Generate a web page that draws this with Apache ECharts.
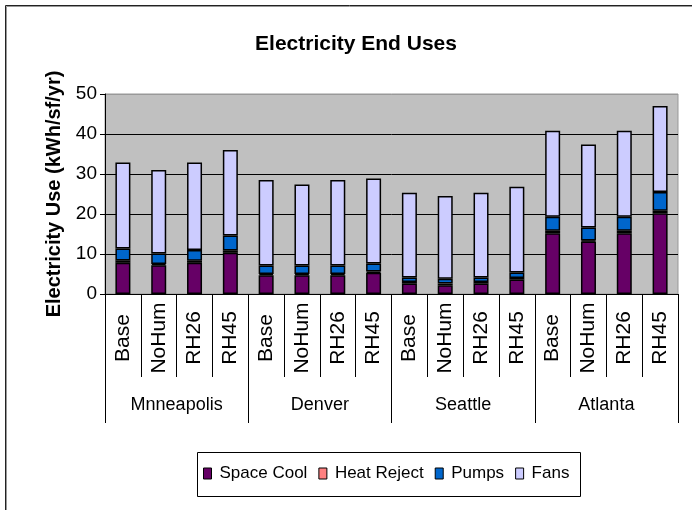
<!DOCTYPE html>
<html>
<head>
<meta charset="utf-8">
<script src="https://cdn.jsdelivr.net/npm/echarts@6/dist/echarts.min.js"></script>
<style>
  html, body { margin: 0; padding: 0; background: #fff; }
  #chart { width: 692px; height: 510px; }
</style>
</head>
<body>
<div id="chart"></div>
<script>
var cities = ['Mnneapolis', 'Denver', 'Seattle', 'Atlanta'];
var cases = ['Base', 'NoHum', 'RH26', 'RH45'];
var spaceCool  = [7.8, 7.2, 7.8, 10.3, 4.7, 4.7, 4.7, 5.3, 2.6, 2.2, 2.6, 3.6, 15.2, 13.1, 15.2, 20.2];
var heatReject = [0.6, 0.3, 0.5, 0.6, 0.3, 0.3, 0.3, 0.3, 0.4, 0.4, 0.4, 0.4, 0.6, 0.3, 0.6, 0.6];
var pumps      = [3.0, 2.6, 2.7, 3.7, 2.1, 2.1, 2.1, 2.0, 1.1, 1.2, 1.1, 1.4, 3.5, 3.2, 3.5, 4.7];
var fans       = [21.5, 20.9, 21.9, 21.4, 21.4, 20.3, 21.4, 21.3, 21.2, 20.7, 21.2, 21.4, 21.5, 20.8, 21.5, 21.5];
var yTicks = [0, 50, 10];

var categories = [];
cities.forEach(function () {
    cases.forEach(function (c) { categories.push(c); });
});

var font = "'Liberation Sans', Arial, sans-serif";
var myChart = echarts.init(document.getElementById('chart'));

function bar(name, data, color) {
    return {
        name: name,
        type: 'bar',
        stack: 'total',
        barWidth: 15,
        data: data,
        itemStyle: { color: color, borderColor: '#000', borderWidth: 1.5 },
        emphasis: { disabled: true }
    };
}

var option = {
    backgroundColor: '#fff',
    animation: false,
    title: {
        text: 'Electricity End Uses',
        left: 356,
        top: 34,
        padding: 0,
        textAlign: 'center',
        textStyle: { fontFamily: font, fontSize: 21, fontWeight: 'bold', color: '#000' }
    },
    graphic: [
        {
            type: 'rect',
            shape: { x: 5.5, y: 5.5, width: 700, height: 520 },
            style: { fill: 'none', stroke: '#222', lineWidth: 1 }
        },
        {
            type: 'rect',
            shape: { x: 6.5, y: 6.5, width: 700, height: 520 },
            style: { fill: 'none', stroke: '#999', lineWidth: 1 }
        },
        {
            type: 'rect',
            shape: { x: 197.5, y: 452.5, width: 383, height: 44 },
            style: { fill: 'none', stroke: '#000', lineWidth: 1 }
        }
    ],
    legend: {
        left: 203,
        top: 465,
        padding: 0,
        icon: 'rect',
        itemWidth: 8,
        itemHeight: 11,
        itemGap: 11,
        itemStyle: { borderColor: '#000', borderWidth: 1 },
        textStyle: { fontFamily: font, fontSize: 17, color: '#000', padding: [0, 0, 0, 3] },
        data: ['Space Cool', 'Heat Reject', 'Pumps', 'Fans']
    },
    grid: {
        left: 105,
        right: 14,
        top: 94,
        bottom: 216,
        show: true,
        backgroundColor: '#c0c0c0',
        borderColor: '#999',
        borderWidth: 1
    },
    xAxis: [
        {
            type: 'category',
            data: categories,
            axisLine: { show: true, lineStyle: { color: '#000', width: 1 } },
            axisTick: { show: true, interval: 0, length: 83, lineStyle: { color: '#000' } },
            axisLabel: {
                interval: 0,
                rotate: 90,
                align: 'center',
                verticalAlign: 'middle',
                margin: 44,
                fontFamily: font,
                fontSize: 21,
                color: '#000'
            }
        },
        {
            type: 'category',
            data: cities,
            position: 'bottom',
            axisLine: { show: false },
            axisTick: { show: true, interval: 0, length: 129, lineStyle: { color: '#000' } },
            axisLabel: {
                interval: 0,
                margin: 102,
                fontFamily: font,
                fontSize: 18,
                color: '#000'
            }
        }
    ],
    yAxis: {
        type: 'value',
        min: yTicks[0],
        max: yTicks[1],
        interval: yTicks[2],
        name: 'Electricity Use (kWh/sf/yr)',
        nameLocation: 'middle',
        nameRotate: 90,
        nameGap: 41,
        nameTextStyle: { fontFamily: font, fontSize: 20, fontWeight: 'bold', color: '#000' },
        axisLine: { show: true, lineStyle: { color: '#000', width: 1 } },
        axisTick: { show: true, length: 5, lineStyle: { color: '#000' } },
        axisLabel: { margin: 8, fontFamily: font, fontSize: 19, color: '#000' },
        splitLine: {
            show: true,
            lineStyle: { color: ['#000', '#000', '#000', '#000', '#000', '#999'], width: 1 }
        }
    },
    series: [
        bar('Space Cool', spaceCool, '#660066'),
        bar('Heat Reject', heatReject, '#ff8080'),
        bar('Pumps', pumps, '#0066cc'),
        bar('Fans', fans, '#ccccff')
    ]
};
myChart.setOption(option);
window.addEventListener('resize', function () {
    myChart.resize();
});
</script>
</body>
</html>
